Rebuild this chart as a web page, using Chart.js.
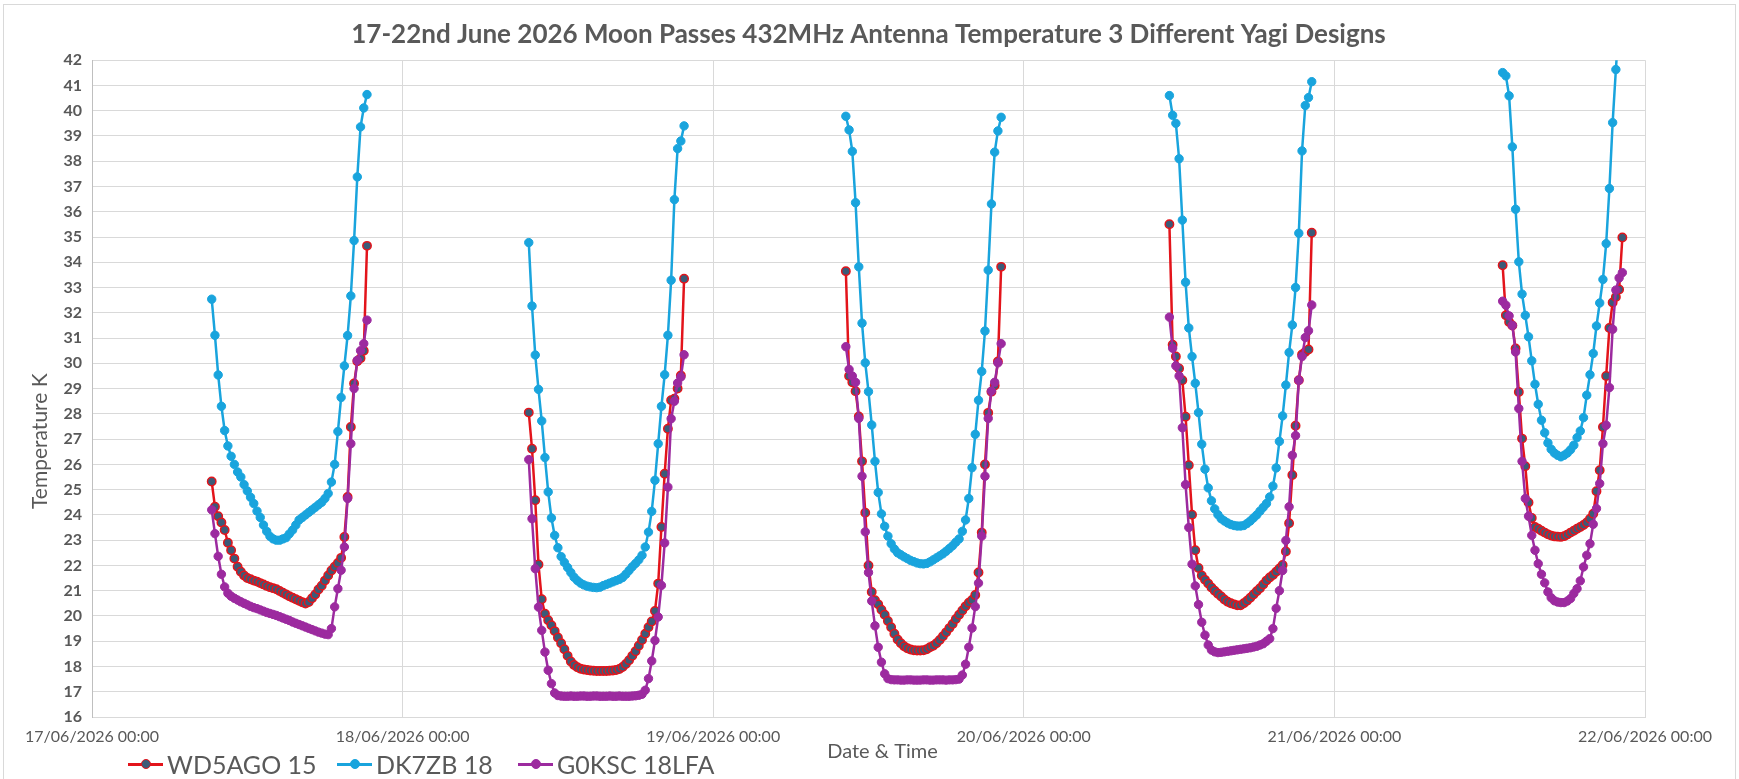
<!DOCTYPE html>
<html>
<head>
<meta charset="utf-8">
<title>Moon Passes 432MHz Antenna Temperature</title>
<script src="https://cdn.jsdelivr.net/npm/chart.js@4.4.1/dist/chart.umd.min.js"></script>
<style>
    html, body { margin: 0; padding: 0; background: #ffffff; }
    #wrap { position: relative; width: 1739px; height: 779px; overflow: hidden; }
    #frame { position: absolute; left: 3px; top: 4px; right: 3px; bottom: -4px; border: 1px solid #d9d9d9; }
    #chart { position: absolute; left: 0; top: 0; }
    #legend { position: absolute; left: 0; top: 748px; width: 800px; height: 32px;
              font-family: Lato, "Open Sans", sans-serif; font-size: 25px; color: #595959; }
    .item { position: absolute; top: 0; display: flex; align-items: center; height: 32px; }
    .mark { position: relative; width: 35px; height: 3px; margin-right: 4px; }
    .mark i { position: absolute; left: 13px; top: -4px; width: 10px; height: 10px; border-radius: 50%; box-sizing: border-box; }
</style>
</head>
<body>
<div id="wrap">
    <div id="frame"></div>
    <canvas id="chart" width="1739" height="779"></canvas>
    <div id="legend"></div>
</div>
<script>
// Titoli e assi
const chartTitle = "17-22nd June 2026 Moon Passes 432MHz Antenna Temperature 3 Different Yagi Designs";
const xTitle = "Date & Time";
const yTitle = "Temperature K";
const xTickDays = ["17/06/2026 00:00", "18/06/2026 00:00", "19/06/2026 00:00", "20/06/2026 00:00", "21/06/2026 00:00", "22/06/2026 00:00"];
const yMin = 16;
const yMax = 42;

// Inizio di ogni passaggio della luna, campioni ogni 15 minuti
const passStarts = ["17/06/2026 09:15", "18/06/2026 09:45", "19/06/2026 10:15", "20/06/2026 11:15", "21/06/2026 13:00"];
const sampleMinutes = 15;

const seriesNames = ["WD5AGO 15", "DK7ZB 18", "G0KSC 18LFA"];

const wd5ago15 = [
    [25.32, 24.32, 23.95, 23.7, 23.4, 22.9, 22.6, 22.27, 21.95, 21.75, 21.6, 21.5, 21.45, 21.4, 21.36, 21.3, 21.25, 21.19, 21.14, 21.1,
     21.06, 20.99, 20.92, 20.85, 20.78, 20.72, 20.66, 20.6, 20.54, 20.49, 20.55, 20.7, 20.85, 21.05, 21.2, 21.4, 21.6, 21.8, 21.95, 22.1,
     22.3, 23.13, 24.71, 27.48, 29.2, 30.08, 30.2, 30.5, 34.65],
    [28.05, 26.62, 24.58, 22.04, 20.66, 20.09, 19.83, 19.63, 19.4, 19.15, 18.92, 18.68, 18.42, 18.2, 18.06, 17.97, 17.91, 17.88, 17.86, 17.84,
     17.83, 17.82, 17.82, 17.82, 17.82, 17.83, 17.84, 17.86, 17.9, 17.98, 18.1, 18.25, 18.42, 18.6, 18.82, 19.05, 19.3, 19.55, 19.78, 20.2,
     21.28, 23.52, 25.63, 27.41, 28.54, 28.6, 29.0, 29.52, 33.35],
    [33.65, 29.5, 29.25, 28.9, 27.9, 26.12, 24.09, 22.0, 20.95, 20.62, 20.46, 20.25, 20.05, 19.8, 19.55, 19.3, 19.07, 18.92, 18.8, 18.72,
     18.67, 18.64, 18.63, 18.63, 18.64, 18.68, 18.76, 18.82, 18.92, 19.05, 19.2, 19.35, 19.52, 19.68, 19.88, 20.05, 20.22, 20.38, 20.52, 20.63,
     20.83, 21.72, 23.3, 26.0, 28.04, 28.88, 29.12, 30.07, 33.82],
    [35.51, 30.74, 30.27, 29.8, 29.33, 27.89, 25.97, 24.01, 22.6, 21.9, 21.6, 21.43, 21.28, 21.13, 21.0, 20.88, 20.77, 20.65, 20.56, 20.5,
     20.46, 20.42, 20.42, 20.5, 20.6, 20.72, 20.85, 20.98, 21.1, 21.25, 21.4, 21.52, 21.62, 21.75, 21.88, 22.02, 22.55, 23.67, 25.58, 27.53,
     29.33, 30.35, 30.45, 30.55, 35.17],
    [33.88, 31.9, 31.64, 31.5, 30.59, 28.87, 27.02, 25.93, 24.49, 23.88, 23.52, 23.45, 23.37, 23.3, 23.23, 23.18, 23.15, 23.14, 23.13, 23.16,
     23.22, 23.3, 23.37, 23.45, 23.52, 23.6, 23.7, 23.85, 24.05, 24.94, 25.77, 27.48, 29.5, 31.4, 32.41, 32.63, 32.92, 34.98]
];

const dk7zb18 = [
    [32.54, 31.11, 29.54, 28.3, 27.34, 26.73, 26.32, 26.0, 25.7, 25.5, 25.2, 24.95, 24.7, 24.45, 24.15, 23.9, 23.6, 23.35, 23.15, 23.05,
     23.0, 23.0, 23.05, 23.1, 23.25, 23.4, 23.6, 23.8, 23.9, 24.0, 24.1, 24.2, 24.3, 24.4, 24.5, 24.65, 24.85, 25.3, 26.0, 27.3,
     28.65, 29.9, 31.1, 32.67, 34.86, 37.38, 39.36, 40.11, 40.64],
    [34.78, 32.27, 30.33, 28.97, 27.72, 26.27, 24.91, 23.88, 23.19, 22.7, 22.35, 22.12, 21.92, 21.72, 21.53, 21.4, 21.3, 21.23, 21.18, 21.15,
     21.13, 21.12, 21.14, 21.2, 21.25, 21.3, 21.35, 21.4, 21.45, 21.52, 21.65, 21.8, 21.95, 22.08, 22.22, 22.4, 22.73, 23.32, 24.14, 25.37,
     26.82, 28.3, 29.55, 31.11, 33.29, 36.48, 38.5, 38.8, 39.4],
    [39.78, 39.24, 38.39, 36.36, 33.82, 31.59, 30.02, 28.88, 27.56, 26.12, 24.89, 24.04, 23.55, 23.16, 22.86, 22.65, 22.5, 22.42, 22.34, 22.27,
     22.2, 22.15, 22.1, 22.07, 22.06, 22.08, 22.14, 22.22, 22.3, 22.38, 22.46, 22.56, 22.67, 22.78, 22.92, 23.05, 23.35, 23.8, 24.65, 25.87,
     27.19, 28.54, 29.68, 31.28, 33.69, 36.31, 38.36, 39.2, 39.74],
    [40.6, 39.82, 39.5, 38.1, 35.67, 33.21, 31.4, 30.27, 29.21, 28.05, 26.8, 25.81, 25.07, 24.56, 24.24, 24.01, 23.85, 23.76, 23.68, 23.62,
     23.58, 23.56, 23.56, 23.58, 23.66, 23.76, 23.88, 24.0, 24.15, 24.3, 24.45, 24.71, 25.14, 25.86, 26.91, 27.92, 29.14, 30.43, 31.52, 33.0,
     35.15, 38.41, 40.21, 40.52, 41.15],
    [41.51, 41.38, 40.59, 38.57, 36.1, 34.02, 32.74, 31.9, 31.05, 30.1, 29.17, 28.38, 27.75, 27.25, 26.85, 26.6, 26.45, 26.36, 26.3, 26.36,
     26.45, 26.58, 26.76, 27.06, 27.32, 27.85, 28.74, 29.55, 30.39, 31.48, 32.39, 33.32, 34.74, 36.92, 39.53, 41.63, 43.6, 45.5]
];

const g0ksc18lfa = [
    [24.2, 23.26, 22.36, 21.65, 21.15, 20.9, 20.78, 20.7, 20.63, 20.56, 20.5, 20.44, 20.38, 20.33, 20.29, 20.24, 20.19, 20.14, 20.1, 20.06,
     20.02, 19.97, 19.92, 19.87, 19.82, 19.76, 19.71, 19.66, 19.61, 19.56, 19.51, 19.46, 19.41, 19.36, 19.32, 19.28, 19.26, 19.5, 20.36, 21.08,
     21.81, 22.73, 24.65, 26.82, 29.0, 30.12, 30.5, 30.78, 31.71],
    [26.19, 23.85, 21.87, 20.35, 19.43, 18.57, 17.85, 17.32, 16.95, 16.85, 16.83, 16.82, 16.82, 16.83, 16.82, 16.82, 16.83, 16.83, 16.82, 16.82,
     16.83, 16.83, 16.82, 16.82, 16.82, 16.83, 16.82, 16.82, 16.83, 16.82, 16.82, 16.82, 16.83, 16.84, 16.86, 16.9, 17.06, 17.52, 18.22, 19.03,
     19.96, 21.21, 22.89, 25.1, 27.81, 28.5, 29.22, 29.46, 30.34],
    [30.66, 29.76, 29.5, 29.25, 27.82, 25.53, 23.33, 21.72, 20.59, 19.61, 18.76, 18.17, 17.71, 17.52, 17.48, 17.47, 17.47, 17.46, 17.46, 17.47,
     17.47, 17.46, 17.46, 17.46, 17.47, 17.47, 17.46, 17.46, 17.47, 17.47, 17.47, 17.46, 17.47, 17.47, 17.48, 17.5, 17.66, 18.09, 18.76, 19.52,
     20.37, 21.3, 23.16, 25.53, 27.82, 28.9, 29.25, 30.02, 30.78],
    [31.83, 30.6, 29.9, 29.5, 27.45, 25.2, 23.5, 22.05, 21.19, 20.45, 19.75, 19.24, 18.85, 18.65, 18.58, 18.55, 18.56, 18.58, 18.6, 18.62,
     18.64, 18.66, 18.68, 18.7, 18.72, 18.74, 18.77, 18.8, 18.85, 18.9, 19.0, 19.1, 19.5, 20.3, 21.0, 21.8, 22.99, 24.32, 26.36, 27.14,
     29.33, 30.27, 31.02, 31.29, 32.31],
    [32.46, 32.3, 31.88, 31.5, 30.45, 28.21, 26.12, 24.65, 23.95, 23.19, 22.6, 22.07, 21.65, 21.31, 20.95, 20.72, 20.6, 20.55, 20.53, 20.53,
     20.59, 20.69, 20.89, 21.08, 21.39, 21.94, 22.4, 22.86, 23.63, 24.25, 25.24, 26.82, 27.55, 29.04, 31.35, 32.9, 33.38, 33.59]
];

const textColor = "#595959";
const fontFamily = "Lato, 'Open Sans', sans-serif";

// Ore trascorse dal 17/06/2026 00:00
function hoursFrom(stamp) {
    const [date, time] = stamp.split(" ");
    const day = parseInt(date.split("/")[0], 10);
    const [hh, mm] = time.split(":").map(Number);
    return (day - 17) * 24 + hh + mm / 60;
}

// Unisce i passaggi, con un punto vuoto tra uno e l'altro per spezzare la linea
function buildPoints(passes) {
    const points = [];
    passes.forEach((values, p) => {
        const t0 = hoursFrom(passStarts[p]);
        values.forEach((v, i) => points.push({ x: t0 + i * sampleMinutes / 60, y: v }));
        points.push({ x: t0 + values.length * sampleMinutes / 60, y: null });
    });
    return points;
}

const styles = [
    { line: "#e3141b", fill: "#3b5b78", edge: "#e3141b", order: 3, legendLeft: 128 },
    { line: "#19a4dd", fill: "#19a4dd", edge: "#19a4dd", order: 2, legendLeft: 337 },
    { line: "#9c2a9f", fill: "#9c2a9f", edge: "#9c2a9f", order: 1, legendLeft: 518 }
];

const datasets = [wd5ago15, dk7zb18, g0ksc18lfa].map((passes, k) => ({
    label: seriesNames[k],
    data: buildPoints(passes),
    borderColor: styles[k].line,
    borderWidth: 2.5,
    pointRadius: 4.2,
    pointHoverRadius: 4.2,
    pointBackgroundColor: styles[k].fill,
    pointBorderColor: styles[k].edge,
    pointBorderWidth: k === 0 ? 1.5 : 1,
    tension: 0,
    spanGaps: false,
    order: styles[k].order
}));

// Titoli degli assi nella posizione del grafico originale
const axisTitles = {
    id: "axisTitles",
    afterDraw(chart) {
        const { ctx, chartArea } = chart;
        ctx.save();
        ctx.fillStyle = textColor;
        ctx.textAlign = "center";
        ctx.textBaseline = "middle";
        ctx.font = "20px " + fontFamily;
        ctx.fillText(xTitle, chartArea.left + (chartArea.right - chartArea.left) * 0.509, 752);
        ctx.font = "21px " + fontFamily;
        ctx.translate(40, chartArea.top + (chartArea.bottom - chartArea.top) * 0.58);
        ctx.rotate(-Math.PI / 2);
        ctx.fillText(yTitle, 0, 0);
        ctx.restore();
    }
};

new Chart(document.getElementById("chart").getContext("2d"), {
    type: "line",
    data: { datasets: datasets },
    plugins: [axisTitles],
    options: {
        responsive: false,
        animation: false,
        layout: { padding: { left: 0, right: 94, top: 0, bottom: 0 } },
        plugins: {
            legend: { display: false },
            tooltip: { enabled: false },
            title: {
                display: true,
                text: chartTitle,
                fullSize: false,
                color: textColor,
                font: { family: fontFamily, size: 26, weight: "bold" },
                padding: { top: 19, bottom: 10 }
            }
        },
        scales: {
            x: {
                type: "linear",
                min: 0,
                max: 120,
                ticks: {
                    stepSize: 24,
                    maxRotation: 0,
                    autoSkip: false,
                    padding: 10,
                    color: textColor,
                    font: { family: fontFamily, size: 16 },
                    callback: value => xTickDays[value / 24] || ""
                },
                grid: { color: "#d9d9d9", drawTicks: false },
                border: { color: "#d9d9d9" },
                afterFit: scale => { scale.height = 62; }
            },
            y: {
                min: yMin,
                max: yMax,
                ticks: {
                    stepSize: 1,
                    padding: 10,
                    color: textColor,
                    font: { family: fontFamily, size: 16, weight: "bold" }
                },
                grid: { color: "#d9d9d9", drawTicks: false },
                border: { color: "#bfbfbf" },
                afterFit: scale => { scale.width = 92; }
            }
        }
    }
});

// Legenda
const legend = document.getElementById("legend");
seriesNames.forEach((name, k) => {
    const item = document.createElement("div");
    item.className = "item";
    item.style.left = styles[k].legendLeft + "px";
    item.innerHTML = `<span class="mark" style="background:${styles[k].line}"><i style="background:${styles[k].fill};border:1.5px solid ${styles[k].edge}"></i></span><span>${name}</span>`;
    legend.appendChild(item);
});
</script>
</body>
</html>
